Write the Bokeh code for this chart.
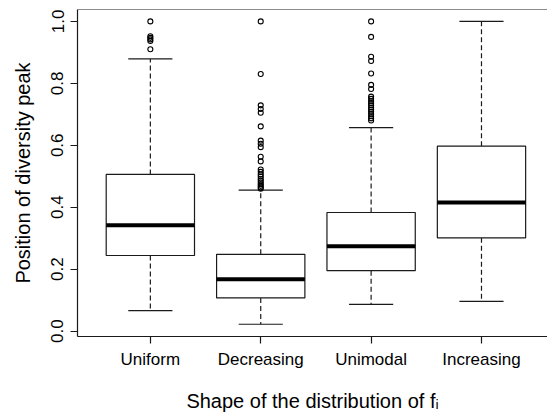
from bokeh.plotting import figure
from bokeh.models import FixedTicker, Span, Range1d
from bokeh.embed import file_html
from bokeh.resources import INLINE

# ---- data ----
categories = ["Uniform", "Decreasing", "Unimodal", "Increasing"]
lower_whisker = [0.066, 0.022, 0.086, 0.096]
q1 = [0.244, 0.107, 0.195, 0.301]
median = [0.342, 0.167, 0.274, 0.415]
q3 = [0.506, 0.248, 0.383, 0.597]
upper_whisker = [0.879, 0.455, 0.657, 1.0]

outliers_uniform = [1.0, 0.952, 0.947, 0.942, 0.937, 0.91]
outliers_decreasing = [1.0, 0.83, 0.729, 0.717, 0.705, 0.661, 0.615, 0.605, 0.594,
                       0.563, 0.548, 0.522, 0.514, 0.506, 0.499, 0.492, 0.486,
                       0.480, 0.474, 0.469, 0.464, 0.460]
outliers_unimodal = [1.0, 0.95, 0.886, 0.872, 0.832, 0.795, 0.782, 0.757, 0.750,
                     0.743, 0.736, 0.729, 0.722, 0.715, 0.708, 0.701, 0.694,
                     0.687, 0.680]
outliers_increasing = []

y_ticks = [0.0, 0.2, 0.4, 0.6, 0.8, 1.0]
y_tick_labels = ["0.0", "0.2", "0.4", "0.6", "0.8", "1.0"]
x_title = "Shape of the distribution of f\u1d62"
y_title = "Position of diversity peak"

# ---- figure ----
FONT = "Liberation Sans"
LC = "#1a1a1a"
xs = [i + 1 for i in range(len(categories))]
y0, y1 = -0.0175, 1.0385
x0, x1 = 0.34, 4.598

p = figure(width=547, height=414, output_backend="svg", toolbar_location=None,
           x_range=Range1d(x0, x1), y_range=Range1d(y0, y1),
           min_border_left=77, min_border_right=0, min_border_top=9,
           min_border_bottom=76)
p.outline_line_color = None
p.xgrid.visible = False
p.ygrid.visible = False
p.background_fill_color = "white"
p.border_fill_color = "white"

# whiskers
bw = 0.8
p.segment(x0=xs, y0=q3, x1=xs, y1=upper_whisker, line_color=LC, line_width=1.2,
          line_dash="5 3")
p.segment(x0=xs, y0=q1, x1=xs, y1=lower_whisker, line_color=LC, line_width=1.2,
          line_dash="5 3")
# staples
p.segment(x0=[x - bw / 4 for x in xs], y0=upper_whisker,
          x1=[x + bw / 4 for x in xs], y1=upper_whisker, line_color=LC, line_width=1.2)
p.segment(x0=[x - bw / 4 for x in xs], y0=lower_whisker,
          x1=[x + bw / 4 for x in xs], y1=lower_whisker, line_color=LC, line_width=1.2)
# boxes
p.quad(left=[x - bw / 2 for x in xs], right=[x + bw / 2 for x in xs],
       bottom=q1, top=q3, fill_color="white", line_color=LC, line_width=1.2)
# medians
p.segment(x0=[x - bw / 2 for x in xs], y0=median, x1=[x + bw / 2 for x in xs],
          y1=median, line_color="black", line_width=4)
# outliers
ox, oy = [], []
for x, vals in zip(xs, [outliers_uniform, outliers_decreasing,
                        outliers_unimodal, outliers_increasing]):
    ox += [x] * len(vals)
    oy += vals
p.scatter(ox, oy, marker="circle", size=5, fill_color=None, line_color="black",
          line_width=1.1)

# top border line
p.add_layout(Span(location=y1, dimension="width", line_color=LC, line_width=1.2))

# axes
p.xaxis.ticker = FixedTicker(ticks=xs)
p.xaxis.major_label_overrides = {x: c for x, c in zip(xs, categories)}
p.yaxis.ticker = FixedTicker(ticks=y_ticks)
p.yaxis.major_label_overrides = {t: l for t, l in zip(y_ticks, y_tick_labels)}
p.yaxis.major_label_orientation = "vertical"
for ax in (p.xaxis, p.yaxis):
    ax.axis_line_color = LC
    ax.axis_line_width = 1.2
    ax.major_tick_line_color = LC
    ax.major_tick_line_width = 1.2
    ax.major_tick_in = 0
    ax.major_tick_out = 7
    ax.minor_tick_line_color = None
    ax.major_label_text_font = FONT
    ax.major_label_text_font_size = "17px"
    ax.major_label_text_color = "black"
    ax.axis_label_text_font = FONT
    ax.axis_label_text_font_size = "20px"
    ax.axis_label_text_font_style = "normal"
    ax.axis_label_text_color = "black"
p.xaxis.major_label_standoff = 6
p.yaxis.major_label_standoff = 7
p.xaxis.axis_label = x_title
p.yaxis.axis_label = y_title
p.xaxis.axis_label_standoff = 18
p.yaxis.axis_label_standoff = 15

open("out.html", "w").write(file_html(p, INLINE))
